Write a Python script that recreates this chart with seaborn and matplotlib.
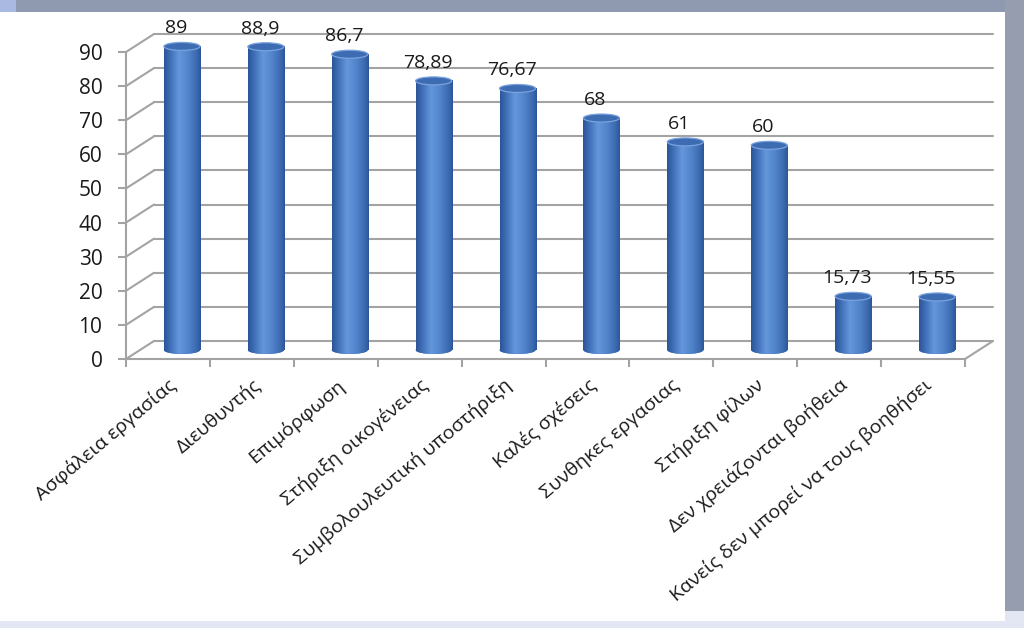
import matplotlib
matplotlib.use("Agg")
import matplotlib.pyplot as plt
import seaborn as sns
import numpy as np
import pandas as pd
from matplotlib.transforms import ScaledTranslation
from matplotlib.patches import Ellipse, Rectangle
from matplotlib.lines import Line2D
from matplotlib.colors import LinearSegmentedColormap

categories = ["Ασφάλεια εργασίας", "Διευθυντής", "Επιμόρφωση", "Στήριξη οικογένειας",
              "Συμβολουλευτική υποστήριξη", "Καλές σχέσεις", "Συνθηκες εργασιας",
              "Στήριξη φίλων", "Δεν χρειάζονται βοήθεια", "Κανείς δεν μπορεί να τους βοηθήσει"]
values = [89, 88.9, 86.7, 78.89, 76.67, 68, 61, 60, 15.73, 15.55]
value_labels = ["89", "88,9", "86,7", "78,89", "76,67", "68", "61", "60", "15,73", "15,55"]
y_ticks = [0, 10, 20, 30, 40, 50, 60, 70, 80, 90]

sns.set_style("white")
plt.rcParams['font.family'] = ['Open Sans', 'DejaVu Sans']

W, H = 1024, 628
fig = plt.figure(figsize=(W / 100, H / 100), dpi=100)
fig.patch.set_facecolor("white")

px_per_unit = (359 - 52) / 90.0
ax = fig.add_axes([126 / W, 1 - 359 / H, (965 - 126) / W, 100 * px_per_unit / H])
ax.set_facecolor("none")

df = pd.DataFrame({"cat": categories, "val": values})
sns.barplot(data=df, x="cat", y="val", width=0.43, color="#4677C0", ax=ax,
            zorder=3, errorbar=None)
ax.set_xlim(-0.5, 9.5)
ax.set_ylim(0, 100)

grid_c = "#A3A3A3"
back = ScaledTranslation(0.28, 0.18, fig.dpi_scale_trans)
mid = ScaledTranslation(0.14, 0.09, fig.dpi_scale_trans)

# back wall gridlines + depth lines
for v in y_ticks:
    ax.plot([-0.5, 9.5], [v, v], transform=ax.transData + back, color=grid_c,
            lw=1.5, clip_on=False, zorder=1)
    a = ax.transData.transform((-0.5, v))
    fa = fig.transFigure.inverted().transform(a)
    fb = fig.transFigure.inverted().transform(a + np.array([28, 18]))
    fig.add_artist(Line2D([fa[0], fb[0]], [fa[1], fb[1]], color=grid_c, lw=1.5))
a = ax.transData.transform((9.5, 0))
fa = fig.transFigure.inverted().transform(a)
fb = fig.transFigure.inverted().transform(a + np.array([28, 18]))
fig.add_artist(Line2D([fa[0], fb[0]], [fa[1], fb[1]], color=grid_c, lw=1.5))

# cylinders
cmap = LinearSegmentedColormap.from_list("cyl", [
    (0.0, "#2B5597"), (0.15, "#3D6CB4"), (0.40, "#6396DB"),
    (0.65, "#5385CC"), (0.90, "#3A68AE"), (1.0, "#2C5698")])
grad = cmap(np.linspace(0, 1, 128))[None, :, :]
eh = 8.0 / px_per_unit
tr = ax.transData + mid
for p in list(ax.patches):
    x0, w, h = p.get_x(), p.get_width(), p.get_height()
    p.set_transform(tr)
    p.set_edgecolor("none")
    p.set_clip_on(False)
    bot = Ellipse((x0 + w / 2, 0), w, eh, transform=tr, facecolor="#3A68AE",
                  edgecolor="none", zorder=3, clip_on=False)
    ax.add_patch(bot)
    for clip, ext in ((p, [x0, x0 + w, 0, h]), (bot, [x0, x0 + w, -eh, 0])):
        im = ax.imshow(grad, extent=ext, aspect="auto", transform=tr, zorder=3.2,
                       interpolation="bilinear")
        im.set_clip_path(clip)
        im.set_clip_box(None)
    top = Ellipse((x0 + w / 2, h), w, eh, transform=tr, facecolor="#3E6CB2",
                  edgecolor="#7AA3DD", lw=0.9, zorder=4, clip_on=False)
    ax.add_patch(top)
ax.set_xlim(-0.5, 9.5)
ax.set_ylim(0, 100)

# value labels
for i, (v, lbl) in enumerate(zip(values, value_labels)):
    ax.annotate(lbl, (i, v), xytext=(8, 22), textcoords="offset pixels",
                ha="center", va="baseline", fontsize=14, color="#1A1A1A", zorder=5)

# axes styling
for s in ["top", "right"]:
    ax.spines[s].set_visible(False)
for s in ["left", "bottom"]:
    ax.spines[s].set_color(grid_c)
    ax.spines[s].set_linewidth(1.5)
    ax.spines[s].set_zorder(2)
ax.spines["left"].set_bounds(0, 90)
ax.set_yticks(y_ticks)
ax.set_yticklabels([str(t) for t in y_ticks])
ax.tick_params(axis="y", length=6, width=1.5, color=grid_c, pad=11,
               labelsize=15, labelcolor="#1A1A1A", left=True, direction="out")
ax.set_xticks(range(len(categories)))
ax.set_xticklabels(categories, rotation=40, ha="right", rotation_mode="anchor")
ax.set_xticks(np.arange(-0.5, 10, 1.0), minor=True)
ax.tick_params(axis="x", which="major", length=0, pad=12, labelsize=14,
               labelcolor="#1A1A1A")
ax.tick_params(axis="x", which="minor", length=6, width=1.5, color=grid_c,
               bottom=True, direction="out")
ax.set_xlabel("")
ax.set_ylabel("")

# outer frame
fig.add_artist(Rectangle((16 / W, 1 - 12 / H), 1, 12 / H, transform=fig.transFigure,
                         facecolor="#8F99AF", edgecolor="none"))
fig.add_artist(Rectangle((0, 1 - 12 / H), 16 / W, 12 / H, transform=fig.transFigure,
                         facecolor="#A9B9E1", edgecolor="none"))
fig.add_artist(Rectangle((1005 / W, 1 - 611 / H), 19 / W, 611 / H, transform=fig.transFigure,
                         facecolor="#959DAF", edgecolor="none"))
fig.add_artist(Rectangle((1005 / W, 0), 19 / W, 17 / H, transform=fig.transFigure,
                         facecolor="#E3E6F3", edgecolor="none"))
fig.add_artist(Rectangle((0, 0), 1005 / W, 7 / H, transform=fig.transFigure,
                         facecolor="#E3E7F3", edgecolor="none"))

fig.savefig("out.png", dpi=100)
